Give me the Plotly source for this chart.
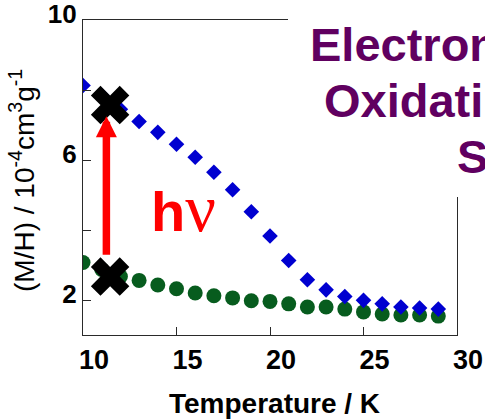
import plotly.graph_objects as go

# Magnetisation (M/H, 1e-4 cm^3 g^-1) versus temperature (K)
temperature = [10, 11, 12, 13, 14, 15, 16, 17, 18, 19,
               20, 21, 22, 23, 24, 25, 26, 27, 28, 29]
mh_irradiated = [8.13, 7.85, 7.45, 7.10, 6.79, 6.45, 6.08, 5.65, 5.15, 4.52,
                 3.83, 3.13, 2.58, 2.29, 2.10, 1.99, 1.89, 1.80, 1.77, 1.74]
mh_dark = [3.07, 2.87, 2.67, 2.56, 2.43, 2.32, 2.20, 2.12, 2.06, 1.98,
           1.96, 1.89, 1.80, 1.80, 1.74, 1.66, 1.60, 1.57, 1.57, 1.54]

# Crosses marking the switching temperature before / after light
cross_T = [11.45, 11.45]
cross_mh = [7.57, 2.67]

# Photo-excitation arrow (temperature, from, to)
arrow_T = 11.25
arrow_from = 3.25
arrow_to = 7.25

x_ticks = [10, 15, 20, 25, 30]
y_ticks = [2, 6, 10]
y_minor_ticks = [4, 8]

W, H = 485, 420
L, R, T, B = 83, 457, 20, 335  # plot-area edges in pixels


def px(xp):
    return (xp - L) / (R - L)


def py(yp):
    return (B - yp) / (B - T)


SANS = "Liberation Sans, Arial, sans-serif"
PURPLE = "#600060"
AX = "#2a2a2a"

fig = go.Figure()
fig.add_trace(go.Scatter(
    x=temperature, y=mh_dark, mode="markers",
    marker=dict(symbol="circle", size=15, color="#075C1E", line=dict(width=0)),
))
fig.add_trace(go.Scatter(
    x=temperature, y=mh_irradiated, mode="markers",
    marker=dict(symbol="diamond", size=12, color="#0000D0", line=dict(width=0)),
))
fig.add_trace(go.Scatter(
    x=cross_T, y=cross_mh, mode="markers",
    marker=dict(symbol="x", size=34, color="black", line=dict(width=0)),
))

annotations = [
    # red hv arrow
    dict(x=arrow_T, y=arrow_to, ax=arrow_T, ay=arrow_from,
         xref="x", yref="y", axref="x", ayref="y",
         text="", showarrow=True, arrowhead=2, arrowwidth=7.5,
         arrowsize=0.56, arrowcolor="#FF0000", standoff=0),
    dict(x=px(149), y=py(232 - 0.35 * 58 - 4), xref="paper", yref="paper",
         xanchor="left", yanchor="middle", showarrow=False,
         text="h<span style='font-family:Liberation Serif, serif;font-size:68px;font-weight:normal'>ν</span>",
         font=dict(family=SANS, size=56, color="#FF0000", weight="bold")),
    # axis titles
    dict(x=px(22), y=py(181), xref="paper", yref="paper",
         xanchor="center", yanchor="middle", showarrow=False, textangle=-90,
         text="(M/H) / 10<sup>-4</sup>cm<sup>3</sup>g<sup>-1</sup>",
         font=dict(family=SANS, size=28, color="black")),
    dict(x=px(274), y=py(413 - 0.35 * 28), xref="paper", yref="paper",
         xanchor="center", yanchor="middle", showarrow=False,
         text="Temperature / K",
         font=dict(family=SANS, size=28, color="black", weight="bold")),
]

# purple heading lines (clipped at the right border), left edges and baselines in pixels
heading = [("Electron", 308, 66), ("Oxidati", 322, 122), ("S", 455, 178)]
for txt, xl, base in heading:
    annotations.append(dict(
        x=px(xl), y=py(base - 0.35 * 47 - 5), xref="paper", yref="paper",
        xanchor="left", yanchor="middle", showarrow=False, text=txt,
        font=dict(family=SANS, size=47, color=PURPLE, weight="bold")))

fig.update_layout(
    width=W, height=H, autosize=False,
    margin=dict(l=L, r=W - R, t=T, b=H - B, pad=0, autoexpand=False),
    paper_bgcolor="white", plot_bgcolor="white",
    showlegend=False,
    annotations=annotations,
    shapes=[dict(type="rect", xref="paper", yref="paper",
                 x0=px(288), x1=px(W + 20), y0=py(197), y1=py(-20),
                 fillcolor="white", line=dict(width=0), layer="above")],
)
fig.update_xaxes(
    range=[10, 30], tickvals=x_ticks, ticks="inside", ticklen=8, tickwidth=1,
    tickcolor=AX, showline=True, linecolor=AX, linewidth=1.2, mirror=True,
    showgrid=False, zeroline=False, ticklabelshift=11, ticklabeloverflow="allow",
    tickfont=dict(family=SANS, size=27, color="black", weight="bold"),
)
fig.update_yaxes(
    range=[1, 10], tickvals=y_ticks, ticks="inside",
    ticklen=8, tickwidth=1, tickcolor=AX, showline=True, linecolor=AX,
    linewidth=1.2, mirror=True, showgrid=False, zeroline=False, ticklabelshift=-6,
    ticklabeloverflow="allow",
    minor=dict(tickvals=y_minor_ticks, ticks="inside", ticklen=8, tickwidth=1,
               tickcolor=AX, showgrid=False),
    tickfont=dict(family=SANS, size=26, color="black", weight="bold"),
)

fig.write_html("out.html")
